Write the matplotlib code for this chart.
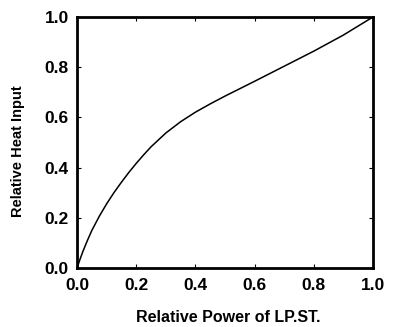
import matplotlib
matplotlib.use("Agg")
import matplotlib.pyplot as plt

relative_power = [0.0, 0.01, 0.02, 0.035, 0.05, 0.075, 0.10, 0.125, 0.15, 0.175, 0.20,
                  0.225, 0.25, 0.30, 0.35, 0.40, 0.45, 0.50, 0.60, 0.70, 0.80, 0.90, 1.00]
relative_heat = [0.0, 0.035, 0.067, 0.110, 0.150, 0.206, 0.256, 0.301, 0.342, 0.381, 0.417,
                 0.451, 0.483, 0.538, 0.583, 0.621, 0.654, 0.685, 0.744, 0.804, 0.864, 0.928, 1.000]
ticks = [0.0, 0.2, 0.4, 0.6, 0.8, 1.0]
tick_labels = ["0.0", "0.2", "0.4", "0.6", "0.8", "1.0"]

plt.rcParams['font.family'] = ['Liberation Sans', 'DejaVu Sans']

fig = plt.figure(figsize=(3.93, 3.27), dpi=100)
ax = fig.add_axes([0.196, 0.180, 0.753, 0.768])
ax.plot(relative_power, relative_heat, color='black', lw=1.1)
ax.set_xlim(0, 1)
ax.set_ylim(0, 1)
ax.set_xticks(ticks)
ax.set_yticks(ticks)
ax.set_xticklabels(tick_labels, fontsize=12.5, fontweight='bold')
ax.set_yticklabels(tick_labels, fontsize=12.5, fontweight='bold')
ax.tick_params(direction='in', length=3, width=0.8, top=True, right=True)
ax.tick_params(axis='x', pad=7)
ax.tick_params(axis='y', pad=6)
for s in ax.spines.values():
    s.set_linewidth(2.0)
ax.set_xlabel("Relative Power of LP.ST.", fontsize=11.5, fontweight='bold')
ax.set_ylabel("Relative Heat Input", fontsize=10.5, fontweight='bold')
ax.xaxis.set_label_coords(0.51, -0.168)
ax.yaxis.set_label_coords(-0.176, 0.466)
fig.savefig("out.png", dpi=100)
